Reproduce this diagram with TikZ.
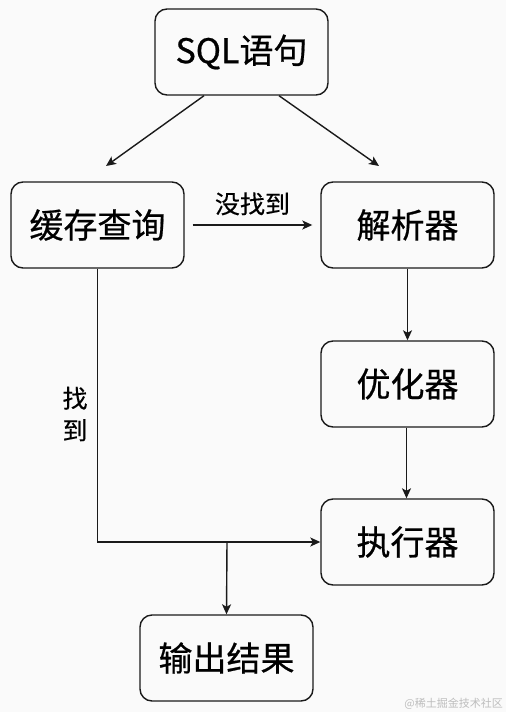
\documentclass[tikz,border=0pt]{standalone}
\usepackage{fontspec}
\setmainfont{Noto Sans CJK SC}
\newfontfamily\boxfont[FakeBold=0.6]{Noto Sans CJK SC}
\newfontfamily\lblfont[FakeBold=0.3]{Noto Sans CJK SC}
\usetikzlibrary{arrows.meta,calc}
\definecolor{bgc}{HTML}{FAFAFA}
\definecolor{linec}{HTML}{1A1A1A}
\definecolor{wmc}{HTML}{BDBDBD}
\tikzset{
  box/.style={draw=linec, line width=1.4pt, rounded corners=12pt, minimum width=173pt, minimum height=86pt, inner sep=0pt, font=\boxfont\fontsize{34}{36}\selectfont, text=black},
  conn/.style={draw=linec, line width=1.4pt, -{Stealth[length=10pt,width=9pt,inset=2.5pt]}},
  lbl/.style={font=\lblfont\fontsize{25}{32}\selectfont, text=black, inner sep=0pt, align=center},
}
\begin{document}
\begin{tikzpicture}[x=1pt,y=-1pt]
\fill[bgc] (0,0) rectangle (506,712);
\useasboundingbox (0,0) rectangle (506,712);
\node[box] (sql) at (241.5,52) {SQL语句};
\node[box] (cache) at (97.5,225) {缓存查询};
\node[box] (parse) at (407.5,225) {解析器};
\node[box] (opt) at (407.5,384) {优化器};
\node[box] (exec) at (407.5,542) {执行器};
\node[box] (out) at (226.5,658) {输出结果};
\coordinate (e1) at (106,166);
\coordinate (e2) at (379,166);
\coordinate (j) at (227,542);
\draw[conn] ([xshift=-37.5pt]sql.south) -- (e1);
\draw[conn] ([xshift=37.5pt]sql.south) -- (e2);
\draw[conn] ([xshift=8pt]cache.east) -- node[lbl, above=9pt] (l1) {没找到} ([xshift=-8pt]parse.west);
\draw[conn] (parse.south) -- (opt.north);
\draw[conn] ([xshift=-1pt]opt.south) -- ([xshift=-1pt]exec.north);
\draw[conn] (cache.south) |- (exec.west);
\draw[conn] (j) -- (out.north);
\node[lbl] (l2) at (75,414) {找\\到};
\node[font=\fontsize{11}{12}\selectfont, text=wmc, anchor=east, inner sep=0pt] (wm) at (503,704) {@稀土掘金技术社区};
\end{tikzpicture}
\end{document}
